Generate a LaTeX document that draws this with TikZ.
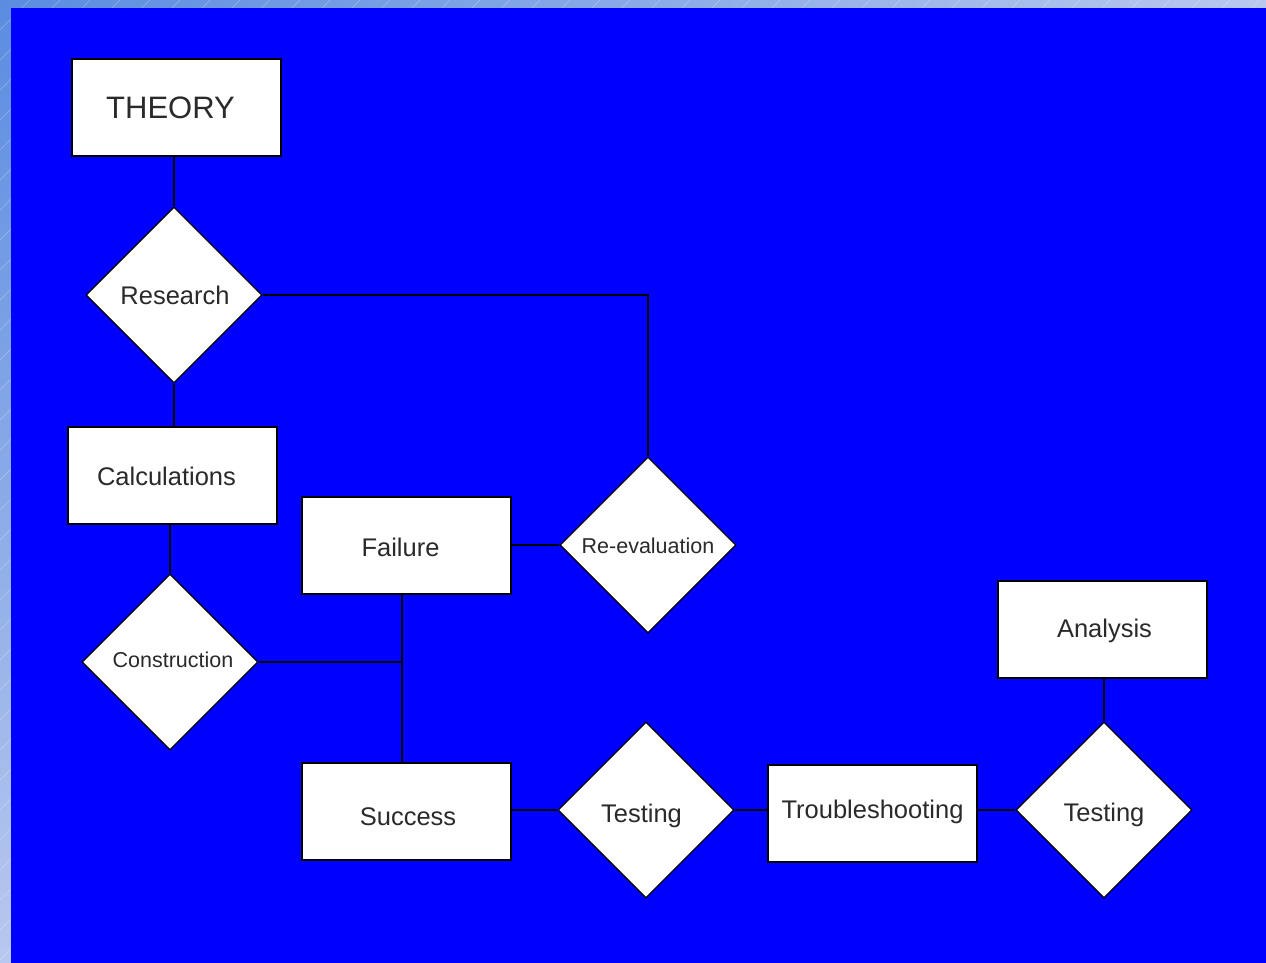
\documentclass[tikz,border=0pt]{standalone}
\usepackage{fontspec}
\setmainfont{Liberation Sans}
\usetikzlibrary{shapes.geometric,shadings}
\definecolor{bgblue}{HTML}{0000FF}
\definecolor{stripdark}{HTML}{5A8CE0}
\definecolor{striplight}{HTML}{B8C8EE}
\definecolor{txt}{HTML}{2A2A2A}
\begin{document}
\begin{tikzpicture}[x=1pt,y=-1pt,
  box/.style={draw=black,line width=1.6pt,fill=white,minimum width=209pt,minimum height=97pt,inner sep=0pt,text=txt,font=\fontsize{25.5}{28}\selectfont},
  dia/.style={draw=black,line width=1.2pt,fill=white,diamond,minimum width=176pt,minimum height=176pt,inner sep=0pt,text=txt,font=\fontsize{25.5}{28}\selectfont},
  small/.style={font=\fontsize{21.5}{24}\selectfont},
  tpos/.style 2 args={text height=#1pt,text depth=#2pt},
  conn/.style={draw=black,line width=1.6pt}]
\useasboundingbox (0,0) rectangle (1266,963);
% background strip with gradient
\shade[upper left=stripdark,upper right=striplight,lower left=striplight,lower right=striplight] (0,0) rectangle (1266,963);
\begin{scope}
\clip (0,0) rectangle (1266,963);
\foreach \i in {0,30,...,2280} {
  \draw[white,opacity=0.3,line width=0.6pt] (\i-1000,1000) -- (\i,0);
}
\end{scope}
\fill[bgblue] (11,8) rectangle (1266,963);
% nodes
\node[box,font=\fontsize{31}{34}\selectfont,tpos={22.2}{0}] (theory) at (176.5,107.5) {\hspace*{-12pt}THEORY};
\node[dia,tpos={18.3}{0}] (research) at (174,295) {\hspace*{2pt}Research};
\node[box,tpos={20.3}{0}] (calc) at (172.5,475.5) {\hspace*{-12pt}Calculations};
\node[dia,small,tpos={15.4}{4}] (constr) at (170,662) {\hspace*{6pt}Construction};
\node[box,tpos={22.3}{0}] (failure) at (406.5,545.5) {\hspace*{-12pt}Failure};
\node[dia,small,tpos={17}{0}] (reeval) at (648,545) {Re-evaluation};
\node[box,tpos={27.3}{0}] (success) at (406.5,811.5) {\hspace*{3pt}Success};
\node[dia,tpos={24.3}{0}] (test1) at (646,810) {\hspace*{-9pt}Testing};
\node[box,tpos={18.3}{8}] (trouble) at (872.5,813.5) {Troubleshooting};
\node[dia,tpos={23.7}{0}] (test2) at (1104,810) {Testing};
\node[box,tpos={18.3}{2}] (analysis) at (1102.5,629.5) {\hspace*{4pt}Analysis};
% connectors
\coordinate (rturn) at (648,295);
\coordinate (cjoin) at (402,662);
\path[conn] (theory.south -| research.north) -- (research.north);
\path[conn] (research.south) -- (research.south |- calc.north);
\path[conn] (research.east) -- (rturn) -- (reeval.north);
\path[conn] (reeval.west) -- (failure.east |- reeval.west);
\path[conn] (constr.north |- calc.south) -- (constr.north);
\path[conn] (constr.east) -- (cjoin);
\path[conn] (cjoin |- failure.south) -- (cjoin |- success.north);
\path[conn] (success.east |- test1.west) -- (test1.west);
\path[conn] (test1.east) -- (trouble.west |- test1.east);
\path[conn] (trouble.east |- test2.west) -- (test2.west);
\path[conn] (test2.north) -- (test2.north |- analysis.south);
\end{tikzpicture}
\end{document}
